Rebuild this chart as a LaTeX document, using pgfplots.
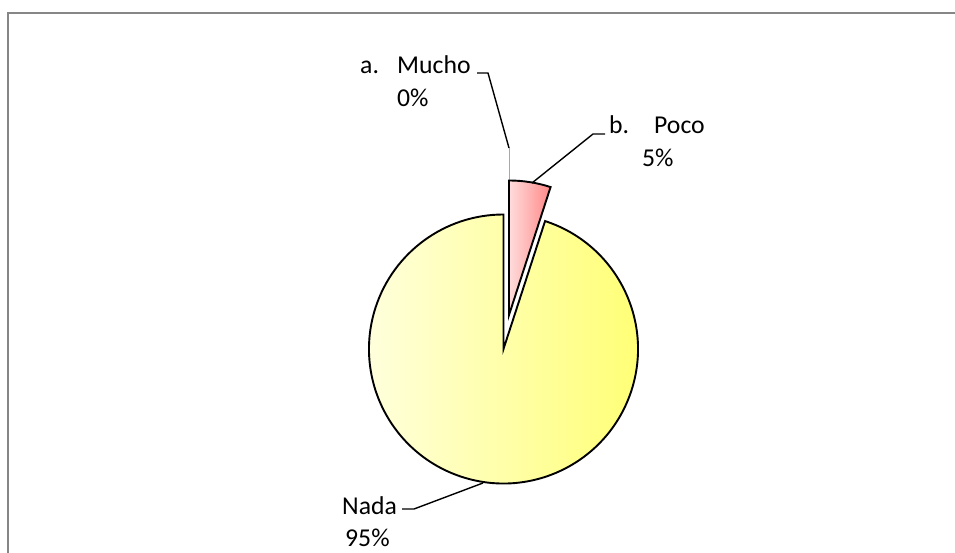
\documentclass[border=0pt]{standalone}
\usepackage{pgfplots}
\pgfplotsset{compat=1.18}
\usepackage{pgfplotstable}
\usepackage{fontspec}
\setmainfont{Carlito}

% pie shares in percent: Mucho, Poco, Nada
\pgfplotstableread{
share
0
5
95
}\shares

\definecolor{nadaL}{HTML}{FFFFE2}
\definecolor{nadaR}{HTML}{FFFF70}
\definecolor{pocoL}{HTML}{FFDCDC}
\definecolor{pocoR}{HTML}{FF8888}
\definecolor{framegray}{HTML}{868686}
\definecolor{mucholine}{HTML}{4F81BD}

\tikzset{lbl/.style={font=\fontsize{25.7pt}{30pt}\selectfont, inner sep=0pt, anchor=base west}}

\begin{document}
\begin{tikzpicture}
\pgfplotstablegetelem{0}{share}\of\shares \let\vA\pgfplotsretval
\pgfplotstablegetelem{1}{share}\of\shares \let\vB\pgfplotsretval
\pgfplotstablegetelem{2}{share}\of\shares \let\vC\pgfplotsretval
\pgfmathsetmacro\aA{90-3.6*\vA}
\pgfmathsetmacro\aB{\aA-3.6*\vB}
\pgfmathsetmacro\aC{\aB-3.6*\vC}
\def\R{134.5pt}
\begin{axis}[
    scale only axis, width=955pt, height=553pt,
    xmin=0, xmax=955, ymin=0, ymax=553,
    axis lines=none,
]
% chart frame
\draw[framegray, line width=2pt] (axis cs:7.5,0) -- (axis cs:7.5,539.5) -- (axis cs:955,539.5);

% Nada
\draw[black, line width=1.9pt, left color=nadaL, right color=nadaR]
    (axis cs:503.5,204) -- ++(\aB:\R) arc[start angle=\aB, end angle=\aC, radius=\R] -- cycle;
% Mucho (0%, exploded)
\draw[mucholine, line width=0.8pt]
    (axis cs:509,270.5) -- ++(90:\R) arc[start angle=90, end angle=\aA, radius=\R] -- cycle;
% Poco (exploded)
\draw[black, line width=1.9pt, left color=pocoL, right color=pocoR]
    (axis cs:509,238) -- ++(\aA:\R) arc[start angle=\aA, end angle=\aB, radius=\R] -- cycle;

% leader lines
\draw[black, line width=1.4pt] (axis cs:509,405) -- (axis cs:488,480) -- (axis cs:477,480);
\draw[black, line width=1.4pt] (axis cs:532,370) -- (axis cs:593,419) -- (axis cs:605,419);
\draw[black, line width=1.4pt] (axis cs:483,70) -- (axis cs:414,44) -- (axis cs:402,44);

% labels
\node[lbl] at (axis cs:360,479) {a.};
\node[lbl] at (axis cs:397,479) {Mucho};
\node[lbl] at (axis cs:397,446) {0\%};
\node[lbl] at (axis cs:609,419) {b.};
\node[lbl] at (axis cs:654,419) {Poco};
\node[lbl] at (axis cs:642,386) {5\%};
\node[lbl] at (axis cs:342,38) {Nada};
\node[lbl] at (axis cs:345,6) {95\%};
\end{axis}
\pgfresetboundingbox
\path (0,0) rectangle (955pt,553pt);
\end{tikzpicture}
\end{document}
